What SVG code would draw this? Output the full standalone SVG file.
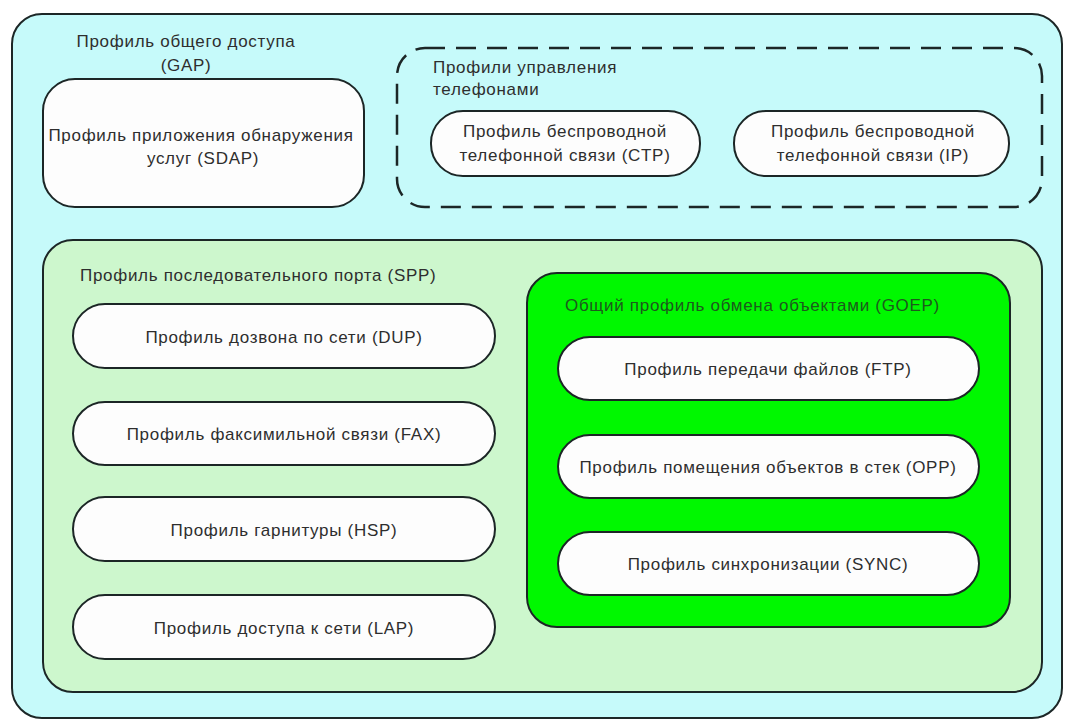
<svg xmlns="http://www.w3.org/2000/svg" width="1065" height="720" viewBox="0 0 1065 720">
<style>
text{font-family:"Liberation Sans",Arial,sans-serif;font-size:17px;letter-spacing:0.7px;fill:#2e2e2e;}
.c{text-anchor:middle;}
.box{stroke:#1c2626;stroke-width:2;}
.pill{fill:#fdfdfd;stroke:#1c2626;stroke-width:2;}
.g{fill:#1d5a1d;}
</style>
<rect width="1065" height="720" fill="#ffffff"/>
<g id="gap">
<rect class="box" x="12" y="14" width="1050" height="704" rx="30" fill="#c6fafa"/>
<text class="c" x="186" y="47">Профиль общего доступа</text>
<text class="c" x="186" y="71">(GAP)</text>
</g>
<g id="sdap">
<rect class="pill" x="43" y="79" width="321" height="128" rx="32"/>
<text class="c" x="201" y="141">Профиль приложения обнаружения</text>
<text class="c" x="203" y="164">услуг (SDAP)</text>
</g>
<g id="tel">
<rect x="397" y="48" width="645" height="159" rx="28" fill="none" stroke="#1c2626" stroke-width="2.5" stroke-dasharray="20 11"/>
<text x="433" y="73">Профили управления</text>
<text x="433" y="95">телефонами</text>
</g>
<g id="ctp">
<rect class="pill" x="431" y="111" width="269" height="65" rx="32"/>
<text class="c" x="565" y="137">Профиль беспроводной</text>
<text class="c" x="565" y="161">телефонной связи (CTP)</text>
</g>
<g id="ip">
<rect class="pill" x="734" y="111" width="275" height="65" rx="32"/>
<text class="c" x="873" y="137">Профиль беспроводной</text>
<text class="c" x="873" y="161">телефонной связи (IP)</text>
</g>
<g id="spp">
<rect class="box" x="43" y="240" width="999" height="452" rx="30" fill="#cdf7cd"/>
<text x="80" y="281">Профиль последовательного порта (SPP)</text>
</g>
<g id="dup">
<rect class="pill" x="73" y="304" width="422" height="64" rx="32"/>
<text class="c" x="284" y="343">Профиль дозвона по сети (DUP)</text>
</g>
<g id="fax">
<rect class="pill" x="73" y="402" width="422" height="63" rx="32"/>
<text class="c" x="284" y="440">Профиль факсимильной связи (FAX)</text>
</g>
<g id="hsp">
<rect class="pill" x="73" y="497" width="422" height="64" rx="32"/>
<text class="c" x="284" y="536">Профиль гарнитуры (HSP)</text>
</g>
<g id="lap">
<rect class="pill" x="73" y="595" width="422" height="64" rx="32"/>
<text class="c" x="284" y="634">Профиль доступа к сети (LAP)</text>
</g>
<g id="goep">
<rect class="box" x="527" y="273" width="483" height="354" rx="30" fill="#00f800"/>
<text class="g" x="565" y="311">Общий профиль обмена объектами (GOEP)</text>
</g>
<g id="ftp">
<rect class="pill" x="558" y="337" width="421" height="63" rx="32"/>
<text class="c" x="768" y="375">Профиль передачи файлов (FTP)</text>
</g>
<g id="opp">
<rect class="pill" x="558" y="435" width="421" height="63" rx="32"/>
<text class="c" x="768" y="473">Профиль помещения объектов в стек (OPP)</text>
</g>
<g id="sync">
<rect class="pill" x="558" y="532" width="421" height="63" rx="32"/>
<text class="c" x="768" y="570">Профиль синхронизации (SYNC)</text>
</g>
<g id="connectors"></g>
</svg>
